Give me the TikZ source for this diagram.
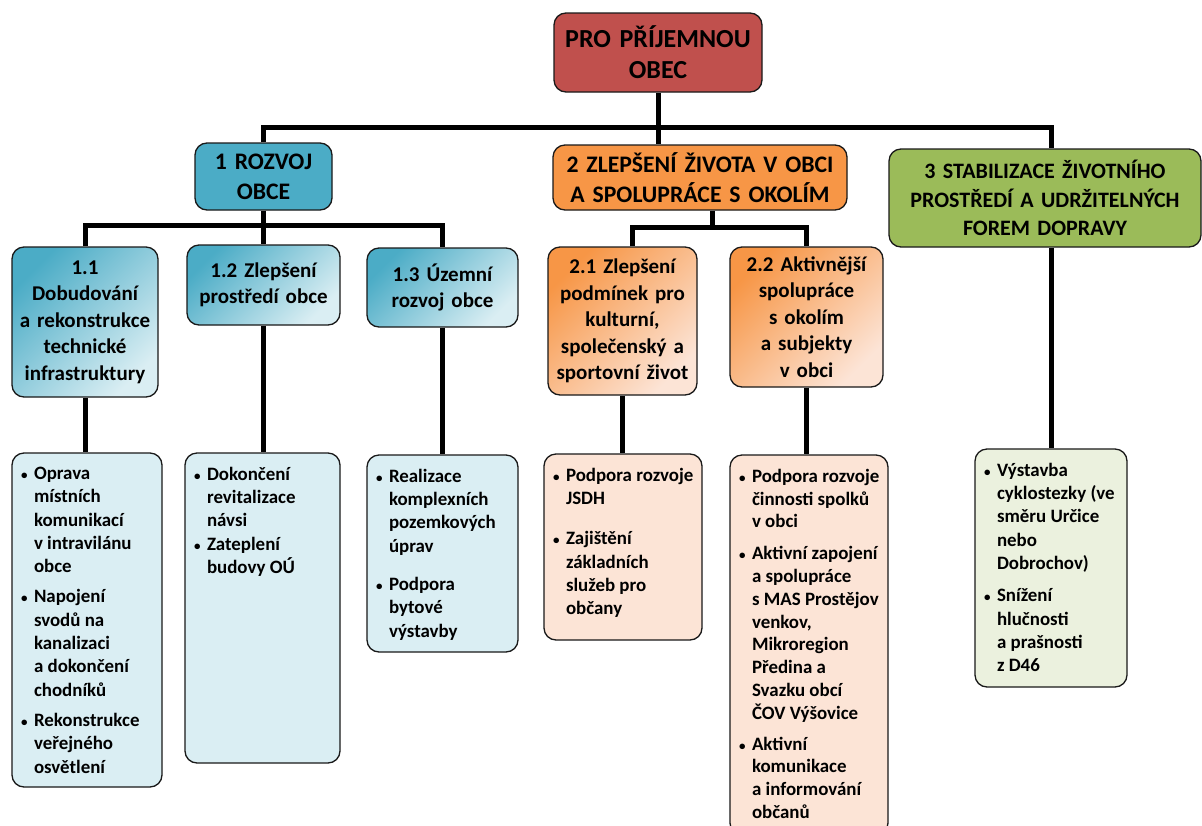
\documentclass[tikz,border=0pt]{standalone}
\usepackage{fontspec}
\setmainfont{Carlito}
\usepackage{tikz}
\definecolor{redbox}{HTML}{C0504D}
\definecolor{bluebox}{HTML}{4BACC6}
\definecolor{orangebox}{HTML}{F79646}
\definecolor{greenbox}{HTML}{9BBB59}
\definecolor{bluelight}{HTML}{DAEEF3}
\definecolor{orangelight}{HTML}{FCE4D6}
\definecolor{greenlight}{HTML}{EBF1DE}
\newcommand{\bul}[1]{\par\hangindent=16pt\hangafter=1\noindent{\let\\\newline\makebox[16pt][l]{\hspace{3pt}{\fontsize{13}{13}\selectfont\textbullet}}#1\par}}
\newcommand{\dtext}[3]{\parbox[c][#1][t]{#2}{\raggedright #3}}

\begin{document}
\begin{tikzpicture}[x=1pt,y=-1pt,
  box/.style={draw=black!90,line width=1.3pt,rounded corners=12pt,align=center,inner sep=0pt},
  lvlnull/.style={box,font=\fontsize{26}{31}\selectfont\bfseries},
  lvlone/.style={box,font=\fontsize{23.7}{30}\selectfont\bfseries},
  lvltwo/.style={box,font=\fontsize{21}{26.5}\selectfont\bfseries},
  detail/.style={box,inner xsep=6pt,inner ysep=14pt,font=\fontsize{18.9}{23.3}\selectfont\bfseries},
  conn/.style={line width=5pt,black}]
       \path[use as bounding box,fill=white] (0,0) rectangle (1202,825);
       % top
       \node[lvlnull,fill=redbox,minimum width=208pt,minimum height=79pt,text width=200pt]
         (root) at (658,52.5) {PRO PŘÍJEMNOU\\OBEC};
       \node[lvlone,fill=bluebox,minimum width=137pt,minimum height=67pt,text width=132pt]
         (b1) at (263.5,176.5) {1 ROZVOJ\\OBCE};
       \node[lvlone,fill=orangebox,minimum width=294pt,minimum height=65pt,text width=290pt]
         (b2) at (700,177.5) {2 ZLEPŠENÍ ŽIVOTA V OBCI\\A SPOLUPRÁCE S OKOLÍM};
       \node[lvlone,fill=greenbox,minimum width=312pt,minimum height=98pt,text width=305pt,
         font=\fontsize{22}{28.5}\selectfont\bfseries]
         (b3) at (1045,198) {3 STABILIZACE ŽIVOTNÍHO\\PROSTŘEDÍ A UDRŽITELNÝCH\\FOREM DOPRAVY};
       % second row
       \node[lvltwo,top color=bluebox,bottom color=bluelight,shading angle=45,
         minimum width=146pt,minimum height=150pt,text width=142pt]
         (b11) at (85,322) {1.1\\Dobudování\\a rekonstrukce\\technické\\infrastruktury};
       \node[lvltwo,top color=bluebox,bottom color=bluelight,shading angle=45,
         minimum width=153pt,minimum height=80pt,text width=148pt]
         (b12) at (263.5,285) {1.2 Zlepšení\\prostředí obce};
       \node[lvltwo,top color=bluebox,bottom color=bluelight,shading angle=45,
         minimum width=151pt,minimum height=79pt,text width=146pt]
         (b13) at (442.5,287.5) {1.3 Územní\\rozvoj obce};
       \node[lvltwo,top color=orangebox,bottom color=orangelight,shading angle=45,
         minimum width=149pt,minimum height=148pt,text width=146pt]
         (b21) at (622.5,321) {2.1 Zlepšení\\podmínek pro\\kulturní,\\společenský a\\sportovní život};
       \node[lvltwo,top color=orangebox,bottom color=orangelight,shading angle=45,
         minimum width=153pt,minimum height=140pt,text width=148pt]
         (b22) at (806.5,317) {2.2 Aktivnější\\spolupráce\\s okolím\\a subjekty\\v obci};
       % details
       \node[detail,fill=bluelight]
         (d11) at (87,620) {\dtext{306pt}{138pt}{%
         \bul{Oprava\\místních\\komunikací\\v intravilánu\\obce}\vspace{7pt}
         \bul{Napojení\\svodů na\\kanalizaci\\a dokončení\\chodníků}\vspace{7pt}
         \bul{Rekonstrukce\\veřejného\\osvětlení}}};
       \node[detail,fill=bluelight]
         (d12) at (262.5,608) {\dtext{282pt}{143pt}{%
         \bul{Dokončení\\revitalizace\\návsi}
         \bul{Zateplení\\budovy OÚ}}};
       \node[detail,fill=bluelight]
         (d13) at (442.5,553.5) {\dtext{169pt}{139pt}{%
         \bul{Realizace\\komplexních\\pozemkových\\úprav}\vspace{15pt}
         \bul{Podpora\\bytové\\výstavby}}};
       \node[detail,fill=orangelight]
         (d21) at (623,547) {\dtext{158pt}{146pt}{%
         \bul{Podpora rozvoje\\JSDH}\vspace{17pt}
         \bul{Zajištění\\základních\\služeb pro\\občany}}};
       \node[detail,fill=orangelight,font=\fontsize{18.9}{22.8}\selectfont\bfseries]
         (d22) at (809,645) {\dtext{352pt}{146pt}{%
         \bul{Podpora rozvoje\\činnosti spolků\\v obci}\vspace{9pt}
         \bul{Aktivní zapojení\\a spolupráce\\s MAS Prostějov\\venkov,\\Mikroregion\\Předina a\\Svazku obcí\\ČOV Výšovice}\vspace{8pt}
         \bul{Aktivní\\komunikace\\a informování\\občanů}}};
       \node[detail,fill=greenlight]
         (d3) at (1051,568) {\dtext{210pt}{140pt}{%
         \bul{Výstavba\\cyklostezky (ve\\směru Určice\\nebo\\Dobrochov)}\vspace{9pt}
         \bul{Snížení\\hlučnosti\\a prašnosti\\z D46}}};
       % connectors
       \coordinate (bar1) at (658,127);
       \coordinate (bar2) at (263,225);
       \coordinate (bar3) at (712,227);
       \draw[conn] (root.south) -- (root.south |- b2.north);
       \draw[conn] (b1.north) |- (bar1) -| (b3.north -| d3.north);
       \draw[conn] (b1.south) -- (b12.north);
       \draw[conn] (b11.north) |- (bar2) -| (b13.north);
       \draw[conn] (bar3 |- b2.south) -- (bar3);
       \draw[conn] ([xshift=10pt]b21.north) |- (bar3) -| (b22.north);
       \draw[conn] (b11.south) -- (b11.south |- d11.north);
       \draw[conn] (b12.south) -- (b12.south |- d12.north);
       \draw[conn] (b13.south) -- (b13.south |- d13.north);
       \draw[conn] (b21.south) -- (b21.south |- d21.north);
       \draw[conn] (b22.south) -- (b22.south |- d22.north);
       \draw[conn] (b3.south -| d3.north) -- (d3.north);
      \end{tikzpicture}
\end{document}
